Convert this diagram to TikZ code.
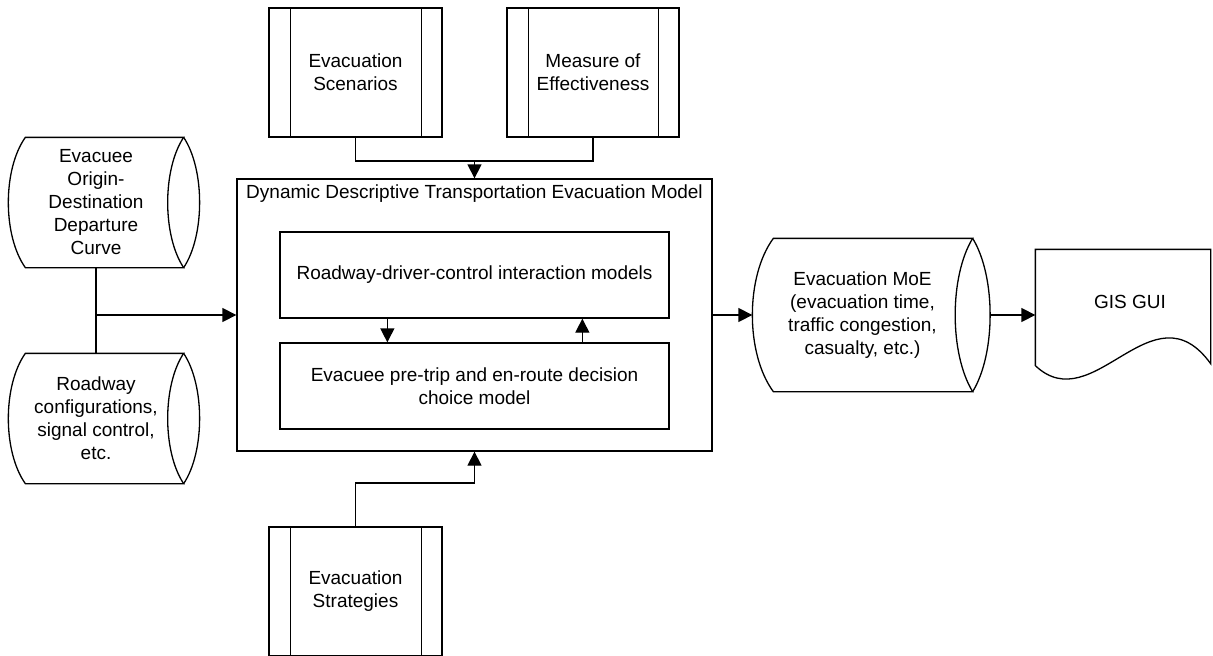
\documentclass[tikz,border=0pt]{standalone}
\usepackage{fontspec}
\setmainfont{Liberation Sans}
\usetikzlibrary{arrows.meta,calc}
\newcommand\hcyl[5]{%
 \draw ([xshift=#2pt]#1.north west) .. controls +(-#3pt,-#5pt) and +(-#3pt,#5pt) .. ([xshift=#2pt]#1.south west) -- (#1.south east) .. controls +(-#4pt,#5pt) and +(-#4pt,-#5pt) .. (#1.north east) -- cycle;
 \draw (#1.north east) .. controls +(#4pt,-#5pt) and +(#4pt,#5pt) .. (#1.south east);}
\newcommand\sidebars[1]{%
 \draw ([xshift=22pt]#1.north west) -- ([xshift=22pt]#1.south west);
 \draw ([xshift=-21pt]#1.north east) -- ([xshift=-21pt]#1.south east);}
\begin{document}
\begin{tikzpicture}[x=1pt,y=-1pt, line width=1.3pt,
 every node/.style={font=\fontsize{19}{23}\selectfont, align=center, inner sep=0pt},
 box/.style={draw, rectangle},
 arr/.style={-{Triangle[length=14pt,width=14pt]}}]
\useasboundingbox (0,0) rectangle (1213,656);
% top / bottom process boxes
\node[box, minimum width=173pt, minimum height=129pt] (scen) at (355.5,72.5) {Evacuation\\Scenarios};
\sidebars{scen}
\node[box, minimum width=172pt, minimum height=129pt] (meas) at (593,72.5) {Measure of\\Effectiveness};
\sidebars{meas}
\node[box, minimum width=173pt, minimum height=129pt] (strat) at (355.5,591.5) {Evacuation\\Strategies};
\sidebars{strat}
% main model
\node[box, minimum width=475pt, minimum height=272pt] (model) at (474.5,315) {};
\node (title) at (474.5,194) {Dynamic Descriptive Transportation Evacuation Model};
\node[box, minimum width=389pt, minimum height=86pt] (rdc) at (474.5,275) {Roadway-driver-control interaction models};
\node[box, minimum width=389pt, minimum height=86pt] (evac) at (474.5,386) {Evacuee pre-trip and en-route decision\\choice model};
% storage shapes
\node[minimum width=174pt, minimum height=129pt] (od) at (96,202.5) {Evacuee\\Origin-\\Destination\\Departure\\Curve};
\hcyl{od}{17}{22.7}{21.3}{32}
\node[minimum width=174pt, minimum height=129pt] (road) at (96,418.5) {Roadway\\configurations,\\signal control,\\etc.};
\hcyl{road}{17}{22.7}{21.3}{32}
\node[minimum width=219pt, minimum height=152pt] (emoe) at (862.5,315) {Evacuation MoE\\(evacuation time,\\traffic congestion,\\casualty, etc.)};
\hcyl{emoe}{21}{28}{23.3}{38}
% document
\node[minimum width=174pt, minimum height=130pt] (gis) at (1123,315) {};
\draw ([yshift=15pt]gis.south west) -- (gis.north west) -- (gis.north east) -- ([yshift=17pt]gis.south east)
  .. controls +(-58pt,80pt) and +(58pt,-55pt) .. ([yshift=15pt]gis.south west) -- cycle;
\node (gist) at (1130,302) {GIS GUI};
% connectors
\coordinate (j1) at (474.5,161);
\draw (scen.south) |- (j1) -| (meas.south);
\draw[arr] (j1) -- (model.north);
\coordinate (j2) at (474.5,483);
\draw[arr] (strat.north) |- (j2) -- (model.south);
\draw (od.south) -- (road.north);
\draw[arr] (od.south |- model.west) -- (model.west);
\draw[arr] (model.east) -- (emoe.west);
\draw[arr] ([xshift=18pt]emoe.east) -- (gis.west);
\draw[arr] ([xshift=108pt]rdc.south west) -- ([xshift=108pt]evac.north west);
\draw[arr] ([xshift=303pt]evac.north west) -- ([xshift=303pt]rdc.south west);
\end{tikzpicture}
\end{document}
